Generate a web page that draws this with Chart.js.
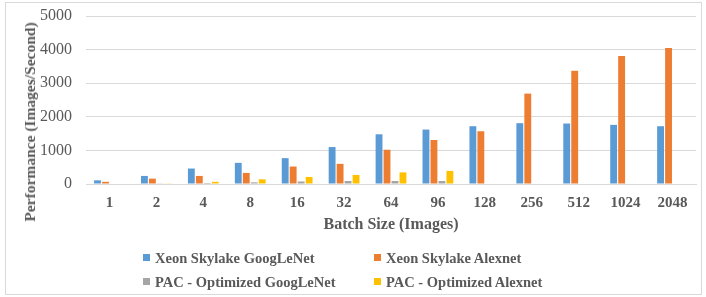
<!DOCTYPE html>
<html>
<head>
<meta charset="utf-8">
<script src="https://cdn.jsdelivr.net/npm/chart.js@4"></script>
<style>
  html, body { margin: 0; padding: 0; background: #fff; }
  #wrap { position: relative; width: 706px; height: 297px; overflow: hidden; }
  #frame { position: absolute; left: 5px; top: 2px; width: 697px; height: 293px; border: 1px solid #d9d9d9; box-sizing: border-box; }
  #perfChart { position: absolute; left: 0; top: 0; }
  #yTitle {
    position: absolute; left: 30px; top: 122px; transform: translate(-50%, -50%) rotate(-90deg);
    font: bold 15.5px "Liberation Serif", serif; color: #595959; white-space: nowrap;
  }
  #legend { position: absolute; left: 0; top: 0; font: bold 14.5px "Liberation Serif", serif; color: #595959; }
  .item { position: absolute; white-space: nowrap; line-height: 18px; }
  .box { display: inline-block; width: 7px; height: 7px; margin-right: 5px; vertical-align: 2px; }
</style>
</head>
<body>
<div id="wrap">
  <div id="frame"></div>
  <canvas id="perfChart" width="706" height="297"></canvas>
  <div id="yTitle">Performance (Images/Second)</div>
  <div id="legend"></div>
</div>
<script>
const batchSizes = ['1', '2', '4', '8', '16', '32', '64', '96', '128', '256', '512', '1024', '2048'];
const xeonGoogLeNet = [110, 240, 460, 630, 770, 1100, 1480, 1620, 1720, 1810, 1800, 1760, 1720];
const xeonAlexnet = [65, 160, 240, 330, 520, 600, 1020, 1310, 1570, 2690, 3370, 3810, 4050];
const pacGoogLeNet = [0, 20, 30, 50, 75, 90, 90, 90, 0, 0, 0, 0, 0];
const pacAlexnet = [0, 20, 65, 140, 210, 270, 345, 390, 0, 0, 0, 0, 0];
const seriesNames = ['Xeon Skylake GoogLeNet', 'Xeon Skylake Alexnet', 'PAC - Optimized GoogLeNet', 'PAC - Optimized Alexnet'];
const seriesColors = ['#5b9bd5', '#ed7d31', '#a5a5a5', '#ffc000'];

const textColor = '#595959';
const gridColor = '#d9d9d9';

const ctx = document.getElementById('perfChart').getContext('2d');
const chart = new Chart(ctx, {
  type: 'bar',
  data: {
    labels: batchSizes,
    datasets: [xeonGoogLeNet, xeonAlexnet, pacGoogLeNet, pacAlexnet].map((vals, i) => ({
      label: seriesNames[i],
      data: vals,
      backgroundColor: seriesColors[i],
      categoryPercentage: 0.68,
      barPercentage: 0.86,
    })),
  },
  options: {
    responsive: false,
    animation: false,
    layout: { padding: { left: 0, right: 10, top: 16, bottom: 53 } },
    plugins: {
      legend: { display: false },
      tooltip: { enabled: false },
    },
    scales: {
      x: {
        grid: { display: false, drawTicks: false },
        border: { display: true, color: gridColor },
        ticks: { color: textColor, padding: 10, font: { family: 'Liberation Serif', size: 15, weight: 'bold' }, maxRotation: 0 },
        title: {
          display: true,
          text: 'Batch Size (Images)',
          color: textColor,
          font: { family: 'Liberation Serif', size: 16, weight: 'bold' },
          padding: { top: 0, bottom: 10 },
        },
        afterFit: (scale) => { scale.height = 60; },
      },
      y: {
        min: 0,
        max: 5000,
        ticks: {
          stepSize: 1000, color: textColor, padding: 14,
          font: { family: 'Liberation Serif', size: 16 },
          callback: (v) => String(v),
        },
        grid: { color: gridColor, drawTicks: false },
        border: { display: false },
        afterFit: (scale) => {
          scale.width = 86;
          scale.paddingTop = 0;
          scale.paddingBottom = 0;
        },
      },
    },
  },
});

// legend laid out in two aligned columns like the original
const legendPos = [[143, 249], [374, 249], [143, 273], [374, 273]];
const legendEl = document.getElementById('legend');
chart.data.datasets.forEach((ds, i) => {
  const item = document.createElement('div');
  item.className = 'item';
  item.style.left = legendPos[i][0] + 'px';
  item.style.top = legendPos[i][1] + 'px';
  item.innerHTML = '<span class="box" style="background:' + ds.backgroundColor + '"></span>' + ds.label;
  legendEl.appendChild(item);
});
</script>
</body>
</html>
